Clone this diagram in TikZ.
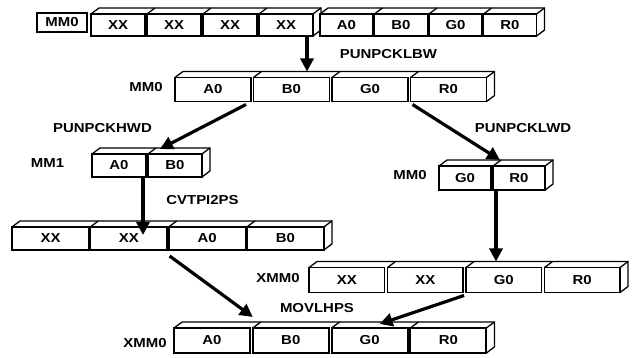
\documentclass[tikz,border=0pt]{standalone}
\usepackage{fontspec}
\setmainfont{Liberation Sans}[FakeStretch=1.15]
\usetikzlibrary{arrows.meta}

\tikzset{
  cell/.style={draw, line width=1.9pt, inner sep=0pt, outer sep=0pt, minimum height=24pt},
  face/.style={line width=1.3pt},
  reglabel/.style={inner sep=0pt},
  move/.style={line width=3.2pt, -{Triangle[length=13pt, width=13pt]}},
}

% depth of a register: slants on top, top edge and right side
\newcommand{\regdepth}[2]{%
  \foreach \k in {1,...,#2}
    \draw[face] (#1\k.north west) -- ++(8,6);
  \draw[face] ([shift={(8,6)}]#11.north west) -- ([shift={(8,6)}]#1#2.north east)
    -- ([shift={(8,6)}]#1#2.south east) -- (#1#2.south east);
  \draw[face] (#1#2.north east) -- ++(8,6);
}

\begin{document}
\begin{tikzpicture}[x=1pt, y=1pt, font=\fontsize{13}{15}\selectfont\bfseries]
\useasboundingbox (0,0) rectangle (636,358);

% source register
\node[draw, line width=1.9pt, minimum width=50pt, minimum height=19pt, inner sep=0pt] (src) at (62,335.5) {MM0};
\foreach \t [count=\i] in {XX,XX,XX,XX}
  \node[cell, minimum width=54pt, minimum height=22pt] (topx\i) at ({118+(\i-1)*56}, 333) {\t};
\regdepth{topx}{4}
\foreach \t [count=\i] in {A0,B0,G0,R0}
  \node[cell, fill=white, minimum width=53pt, minimum height=22pt] (topa\i) at ({346.5+(\i-1)*54.5}, 333) {\t};
\regdepth{topa}{4}

% after punpcklbw
\node[reglabel] (bwlbl) at (146,271) {MM0};
\foreach \t [count=\i] in {A0,B0,G0,R0}
  \node[cell, minimum width=76pt] (bw\i) at ({213+(\i-1)*78.5}, 268.5) {\t};
\regdepth{bw}{4}

% after punpckhwd / punpcklwd
\node[reglabel] (hwlbl) at (47.5,195) {MM1};
\foreach \t [count=\i] in {A0,B0}
  \node[cell, minimum width=54pt, minimum height=23pt] (hw\i) at ({119+(\i-1)*56}, 192.5) {\t};
\regdepth{hw}{2}

\node[reglabel] (lwlbl) at (410,183) {MM0};
\foreach \t [count=\i] in {G0,R0}
  \node[cell, minimum width=52pt] (lw\i) at ({465+(\i-1)*54}, 180) {\t};
\regdepth{lw}{2}

% after cvtpi2ps
\foreach \t [count=\i] in {XX,XX,A0,B0}
  \node[cell, minimum width=77pt, minimum height=23pt] (cv\i) at ({50.5+(\i-1)*78.3}, 119.5) {\t};
\regdepth{cv}{4}

\node[reglabel] (xalbl) at (278,80) {XMM0};
\foreach \t [count=\i] in {XX,XX,G0,R0}
  \node[cell, minimum width=75.5pt, minimum height=25pt] (xa\i) at ({346.75+(\i-1)*78.5}, 78) {\t};
\regdepth{xa}{4}

% result
\node[reglabel] (xblbl) at (145,15) {XMM0};
\foreach \t [count=\i] in {A0,B0,G0,R0}
  \node[cell, minimum width=76pt, minimum height=25pt] (xb\i) at ({212+(\i-1)*78.8}, 17.5) {\t};
\regdepth{xb}{4}

% instructions
\node (op1) at (388.5,304) {PUNPCKLBW};
\node (op2) at (102.5,230) {PUNPCKHWD};
\node (op3) at (523,230) {PUNPCKLWD};
\node (op4) at (202.5,158) {CVTPI2PS};
\node (op5) at (317,50) {MOVLHPS};

% moves
\coordinate (a1s) at ([xshift=-6pt]topx4.south east);
\coordinate (a1e) at (a1s |- bw2.north);
\draw[move] (a1s) -- ([yshift=6pt]a1e);
\draw[move] ([shift={(-5,-3)}]bw1.south east) -- ([shift={(12,5)}]hw2.north west);
\draw[move] ([shift={(2,-3)}]bw4.south west) -- ([shift={(7,6)}]lw2.north west);
\coordinate (a4s) at ([xshift=-3pt]hw1.south east);
\coordinate (a4e) at (a4s |- cv2.north);
\draw[move] (a4s) -- ([yshift=-8pt]a4e);
\coordinate (a5s) at ([xshift=3pt]lw2.south west);
\coordinate (a5e) at (a5s |- xa3.north);
\draw[move] (a5s) -- ([yshift=6pt]a5e);
\draw[move] ([shift={(1,-6)}]cv3.south west) -- ([shift={(0,11)}]xb2.north west);
\draw[move] ([shift={(-2,-3)}]xa3.south west) -- ([shift={(48,4)}]xb3.north west);
\end{tikzpicture}
\end{document}
